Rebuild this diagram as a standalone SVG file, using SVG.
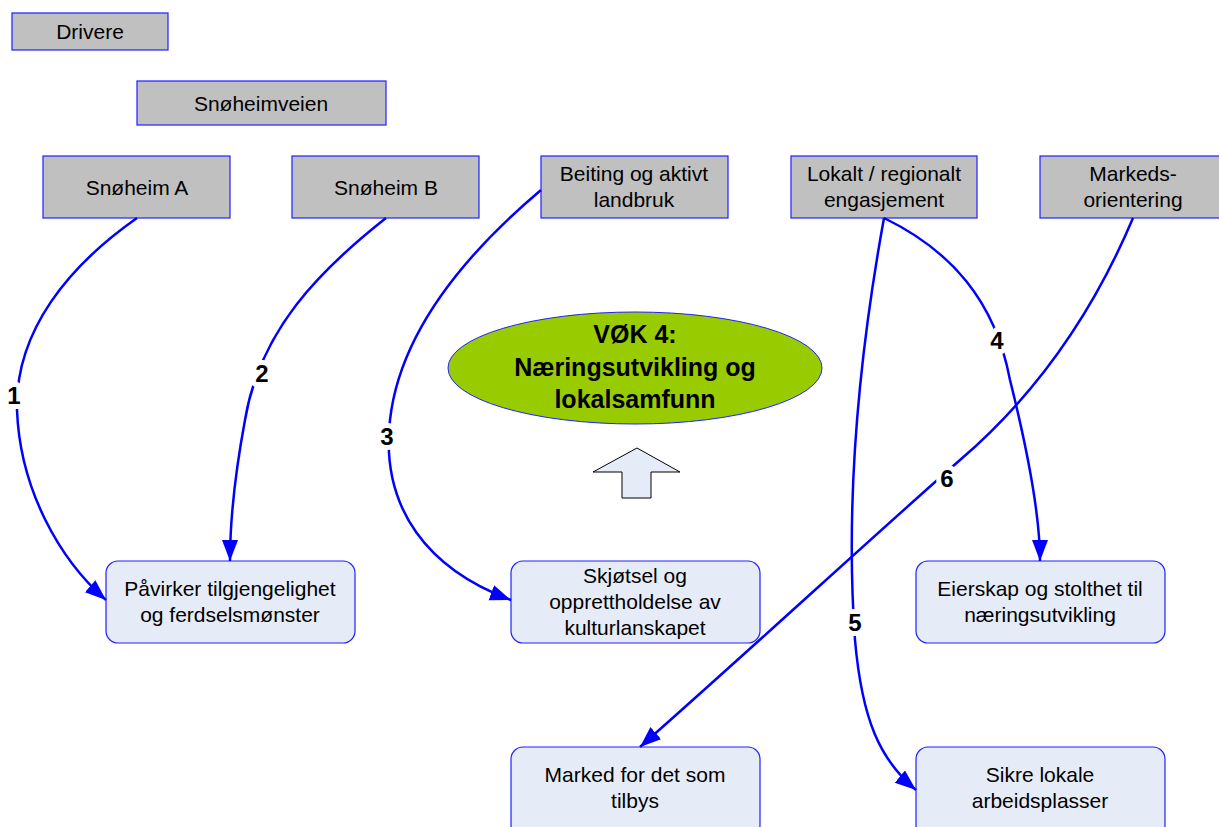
<svg xmlns="http://www.w3.org/2000/svg" width="1219" height="827" viewBox="0 0 1219 827">
<style>
.g{fill:#c0c0c0;stroke:#2020ff;stroke-width:1.2}
.b{fill:#e6ecf7;stroke:#2020ff;stroke-width:1.2}
text{font-family:"Liberation Sans",Arial,sans-serif;font-size:21px;fill:#000;text-anchor:middle}
.v{font-weight:bold;font-size:25px}
.n{font-weight:bold;font-size:24px;stroke:#fff;stroke-width:10;paint-order:stroke;stroke-linejoin:round}
.c{fill:none;stroke:#0000ff;stroke-width:2.5;marker-end:url(#ah)}
</style>
<defs>
<marker id="ah" markerUnits="userSpaceOnUse" markerWidth="24" markerHeight="18" refX="21" refY="8" orient="auto">
<path d="M0,0 L21,8 L0,16 Z" fill="#0000ff"/>
</marker>
</defs>
<rect width="1219" height="827" fill="#fff"/>
<g id="drivere"><rect class="g" x="12" y="13" width="156" height="37"/><text x="90" y="39">Drivere</text></g>
<g id="snoheimveien"><rect class="g" x="137" y="81" width="249" height="44"/><text x="261" y="111">Snøheimveien</text></g>
<g id="snoheimA"><rect class="g" x="43" y="156" width="187" height="62"/><text x="137" y="195">Snøheim A</text></g>
<g id="snoheimB"><rect class="g" x="292" y="156" width="187" height="62"/><text x="386" y="195">Snøheim B</text></g>
<g id="beiting"><rect class="g" x="541" y="156" width="187" height="62"/><text x="634" y="181">Beiting og aktivt</text><text x="634" y="207">landbruk</text></g>
<g id="lokalt"><rect class="g" x="791" y="156" width="186" height="62"/><text x="884" y="181">Lokalt / regionalt</text><text x="884" y="207">engasjement</text></g>
<g id="markeds"><rect class="g" x="1040" y="156" width="187" height="62"/><text x="1133" y="181">Markeds-</text><text x="1133" y="207">orientering</text></g>
<g id="vok"><ellipse cx="635" cy="368" rx="187" ry="56" fill="#99cc00" stroke="#2020ff" stroke-width="1"/>
<text class="v" x="635" y="343">VØK 4:</text><text class="v" x="635" y="376">Næringsutvikling og</text><text class="v" x="635" y="408">lokalsamfunn</text></g>
<g id="pil"><path d="M637,448 L680,472 L651,472 L651,498 L622,498 L622,472 L593,472 Z" fill="#e6ecf7" stroke="#000" stroke-width="1"/></g>
<g id="pavirker"><rect class="b" x="106" y="561" width="249" height="82" rx="12"/><text x="230" y="596">Påvirker tilgjengelighet</text><text x="230" y="622">og ferdselsmønster</text></g>
<g id="skjotsel"><rect class="b" x="511" y="561" width="249" height="82" rx="12"/><text x="635" y="583">Skjøtsel og</text><text x="635" y="609">opprettholdelse av</text><text x="635" y="635">kulturlanskapet</text></g>
<g id="eierskap"><rect class="b" x="916" y="561" width="249" height="82" rx="12"/><text x="1040" y="596">Eierskap og stolthet til</text><text x="1040" y="622">næringsutvikling</text></g>
<g id="marked"><rect class="b" x="511" y="747" width="249" height="90" rx="12"/><text x="635" y="782">Marked for det som</text><text x="635" y="808">tilbys</text></g>
<g id="sikre"><rect class="b" x="916" y="747" width="249" height="90" rx="12"/><text x="1040" y="782">Sikre lokale</text><text x="1040" y="808">arbeidsplasser</text></g>
<g id="connectors">
<path class="c" d="M137,218 C70,265 15,330 17,410 C20,490 60,560 106,600"/>
<path class="c" d="M386,218 C320,270 260,330 245,420 C232,490 230,530 230,561"/>
<path class="c" d="M541,190 C470,250 400,330 390,420 C380,510 430,570 511,600"/>
<path class="c" d="M884,218 C950,250 995,300 1010,380 C1030,460 1040,520 1040,561"/>
<path class="c" d="M884,218 C860,350 845,500 855,640 C862,720 880,760 916,790"/>
<path class="c" d="M1133,218 C1090,320 1030,400 960,460 C880,530 750,650 640,747"/>
<text class="n" x="14" y="404">1</text>
<text class="n" x="262" y="382">2</text>
<text class="n" x="387" y="445">3</text>
<text class="n" x="997" y="349">4</text>
<text class="n" x="855" y="631">5</text>
<text class="n" x="947" y="487">6</text>
</g>
</svg>
